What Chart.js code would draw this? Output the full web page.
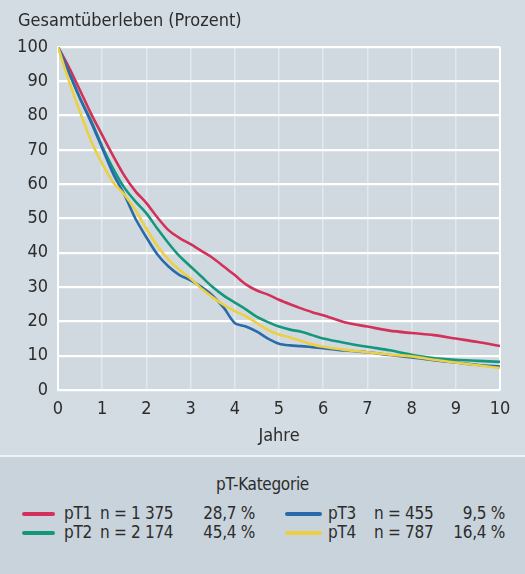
<!DOCTYPE html>
<html>
<head>
<meta charset="utf-8">
<title>Gesamtüberleben</title>
<style>
body {
    margin:0;
    background:#d3dce3;
}
#wrap {
    position:relative;
    width:525px;
    height:574px;
    background:#d3dce3;
    overflow:hidden;
    font-family:'DejaVu Sans Condensed',sans-serif;
    color:#2c2c2c;
}
#title {
    position:absolute;
    left:18px;
    top:9px;
    font-size:18px;
}
#chartBox {
    position:absolute;
    left:0;
    top:0;
    width:525px;
    height:455px;
}
#legendBox {
    position:absolute;
    left:0;
    top:455px;
    width:525px;
    height:119px;
    background:#c8d3db;
    border-top:2px solid #eef3f6;
}
#legendBox span { position:absolute; font-size:17px; white-space:nowrap; line-height:20px; letter-spacing:-0.3px; }
#legendBox i { position:absolute; height:4px; border-radius:2px; }
</style>
</head>
<body>
<script src="https://cdn.jsdelivr.net/npm/chart.js"></script>

<div id="wrap">
    <div id="chartBox"><canvas id="myChart" width="525" height="455"></canvas></div>
    <div id="title">Gesamtüberleben (Prozent)</div>
    <div id="legendBox"></div>
</div>

<script>
// years since diagnosis
var years = [0,0.25,0.5,0.75,1,1.25,1.5,1.75,2,2.25,2.5,2.75,3,3.25,3.5,3.75,4,4.25,4.5,4.75,5,5.25,5.5,5.75,6,6.5,7,7.5,8,8.5,9,9.5,10]

// overall survival in percent
var pT1 = [100,94,87.3,80.5,74.3,68.2,62.5,58,54.5,50.3,46.6,44.3,42.5,40.5,38.5,36,33.5,30.8,29,27.8,26.3,25,23.8,22.7,21.8,19.7,18.5,17.3,16.6,16,15,14,12.8]
var pT2 = [100,92.5,85,78.5,71,64.5,59,55,51.5,47,42.8,39,36,33,30,27.5,25.5,23.5,21.3,19.8,18.5,17.6,17,16,15,13.7,12.6,11.6,10.3,9.3,8.8,8.5,8.2]
var pT3 = [100,92.5,85,78,70.5,63,57,50,44.5,39.5,36,33.5,32,30,27.5,24,19.5,18.5,17,15,13.5,13,12.8,12.5,12.2,11.5,11,10.2,9.5,8.7,8,7.3,6.8]
var pT4 = [100,90,81,72.5,66,60.5,57,52.5,47,42,38,35,32.5,29.5,27,24.8,23,21.5,19.5,17.5,16.2,15.3,14.3,13.3,12.6,11.7,11,10.3,9.8,8.8,8,7.2,6.4]

var names = ['pT1','pT2','pT3','pT4']
var counts = ['n = 1 375','n = 2 174','n = 455','n = 787']
var shares = ['28,7 %','45,4 %','9,5 %','16,4 %']
var colors = ['#d3305a','#15977c','#2a6aaa','#ecd043']

var series = [pT1,pT2,pT3,pT4]

function points(vals) {
    return vals.map((v,i) => ({x:years[i], y:v}))
}

// draw yellow first, red last on top
var order = [3,2,1,0]
var sets = order.map(k => ({
    label: names[k],
    data: points(series[k]),
    borderColor: colors[k],
    borderWidth: 2.6,
    pointRadius: 0,
    tension: 0.3,
    fill: false
}))

var fam = "'DejaVu Sans Condensed',sans-serif"
var tickFont = {family:fam, size:18}

const ctx = document.getElementById('myChart').getContext('2d');
const myChart = new Chart(ctx, {
    type: 'line',
    data: { datasets: sets },
    options: {
        responsive: false,
        animation: false,
        layout: { padding: { top:47, right:25, bottom:0, left:0 } },
        plugins: { legend: { display:false }, tooltip: { enabled:false } },
        scales: {
            x: {
                type: 'linear',
                min: 0, max: 10,
                ticks: { stepSize:1, color:'#2c2c2c', font:tickFont, padding:9, maxRotation:0 },
                grid: { color:'rgba(255,255,255,0.4)', lineWidth:1.5, drawTicks:false },
                border: { color:'#ffffff', width:2 },
                title: { display:true, text:'Jahre', color:'#2c2c2c', font:{family:fam, size:18}, padding:{top:0, bottom:8} },
                afterFit: function(s) { s.height = 65 }
            },
            y: {
                min: 0, max: 100,
                ticks: { stepSize:10, color:'#2c2c2c', font:tickFont, padding:10 },
                grid: { color:'#ffffff', lineWidth:2.2, drawTicks:false },
                border: { color:'#ffffff', width:2 },
                afterFit: function(s) { s.width = 58 }
            }
        }
    },
    plugins: [{
        id: 'plotBg',
        beforeDraw: function(c) {
            var a = c.chartArea
            c.ctx.save()
            c.ctx.fillStyle = '#d0d9e0'
            c.ctx.fillRect(a.left, a.top, a.right - a.left, a.bottom - a.top)
            c.ctx.strokeStyle = '#ffffff'
            c.ctx.lineWidth = 2
            c.ctx.beginPath()
            c.ctx.moveTo(a.right, a.top)
            c.ctx.lineTo(a.right, a.bottom)
            c.ctx.stroke()
            c.ctx.restore()
        }
    }]
});

// legend below the chart
var lb = document.getElementById('legendBox')
function put(html) { lb.insertAdjacentHTML('beforeend', html) }
put('<span style="left:0;width:525px;text-align:center;top:17px">pT-Kategorie</span>')
var cols = [[22,64,100,255],[285,328,374,505]]
for (let k = 0; k < 4; k++) {
    let c = cols[k < 2 ? 0 : 1]
    let rowY = (k % 2 == 0) ? 46 : 65
    put('<i style="left:' + c[0] + 'px;width:' + (k < 2 ? 33 : 37) + 'px;top:' + (rowY + 9) + 'px;background:' + colors[k] + '"></i>')
    put('<span style="left:' + c[1] + 'px;top:' + rowY + 'px">' + names[k] + '</span>')
    put('<span style="left:' + c[2] + 'px;top:' + rowY + 'px">' + counts[k] + '</span>')
    put('<span style="right:' + (525 - c[3]) + 'px;top:' + rowY + 'px">' + shares[k] + '</span>')
}
</script>
</body>
</html>
